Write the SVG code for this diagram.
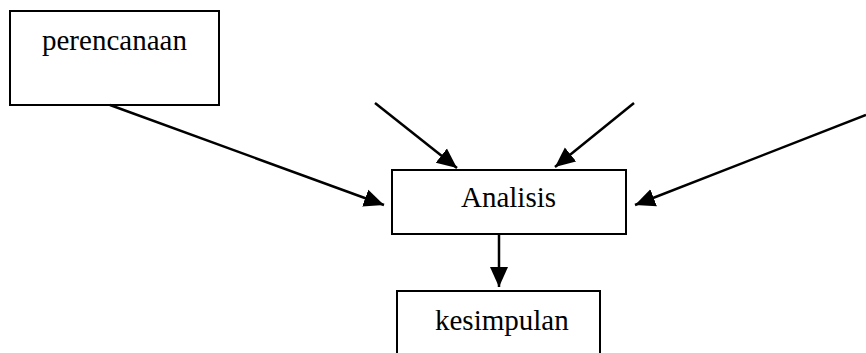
<svg xmlns="http://www.w3.org/2000/svg" width="866" height="353" viewBox="0 0 866 353">
<style>
.box{fill:#fff;stroke:#000;stroke-width:2}
.lbl{font-family:'Liberation Serif','Times New Roman',Times,serif;font-size:29px;fill:#000}
.con{stroke:#000;stroke-width:2.5;fill:none}
</style>
<defs>
<marker id="ah" markerUnits="userSpaceOnUse" markerWidth="22" markerHeight="20" refX="20" refY="9" orient="auto" viewBox="0 0 22 18">
<path d="M0,0 L20,9 L0,18 Z" fill="#000"/>
</marker>
</defs>
<rect width="866" height="353" fill="#fff"/>
<g id="perencanaan">
<rect class="box" x="10" y="11" width="209" height="94"/>
<text class="lbl" x="42" y="50">perencanaan</text>
</g>
<g id="analisis">
<rect class="box" x="392" y="170" width="234" height="64"/>
<text class="lbl" x="461" y="207">Analisis</text>
</g>
<g id="kesimpulan">
<rect class="box" x="397" y="291" width="203" height="70"/>
<text class="lbl" x="435" y="330">kesimpulan</text>
</g>
<g id="connectors">
<line class="con" x1="110" y1="105" x2="384" y2="205" marker-end="url(#ah)"/>
<line class="con" x1="375" y1="103" x2="457" y2="168" marker-end="url(#ah)"/>
<line class="con" x1="634" y1="103" x2="555" y2="167" marker-end="url(#ah)"/>
<line class="con" x1="866" y1="115" x2="635" y2="205" marker-end="url(#ah)"/>
<line class="con" x1="499" y1="234" x2="499" y2="287" marker-end="url(#ah)"/>
</g>
</svg>
